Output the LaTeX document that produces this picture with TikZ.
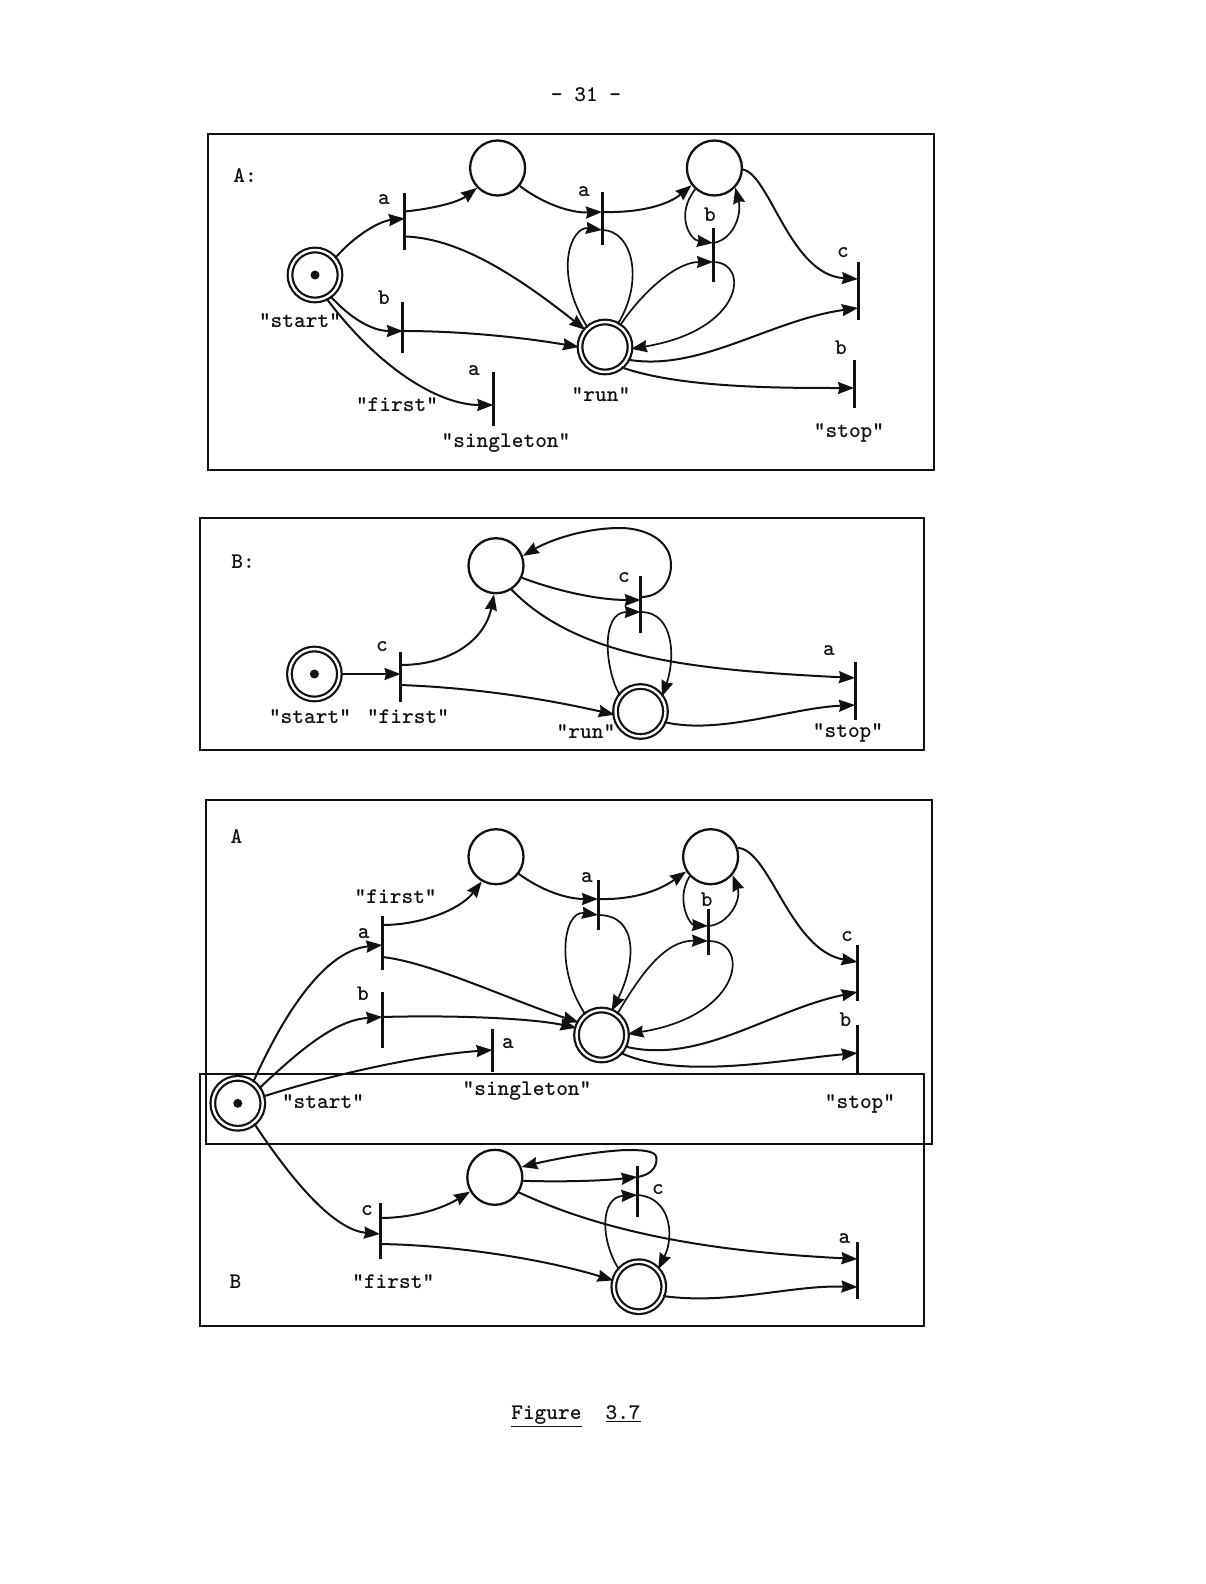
\documentclass[tikz,border=0pt]{standalone}
\usetikzlibrary{arrows.meta,calc}
\tikzset{
  frame/.style={draw=ink,line width=2.5pt},
  place/.style={circle,draw=ink,fill=white,line width=2.3pt,minimum size=55pt,inner sep=0pt},
  dplace/.style={circle,draw=ink,fill=white,line width=2.2pt,double=white,double distance=2.4pt,minimum size=50pt,inner sep=0pt},
  tokenmark/.style={circle,fill=ink,minimum size=9pt,inner sep=0pt},
  tbar/.style={rectangle,fill=ink,minimum width=3pt,inner sep=0pt},
  lab/.style={font=\ttfamily\bfseries\fontsize{22.3}{26}\selectfont,text=ink,inner sep=0pt},
  arc/.style={draw=ink,line width=2pt,-{Stealth[length=16pt,width=12pt,inset=1.5pt]}},
  thinarc/.style={arc,line width=1.7pt},
  plain/.style={draw=ink,line width=1.7pt},
}
\definecolor{ink}{HTML}{111111}
\begin{document}
\begin{tikzpicture}[x=1pt,y=-1pt]
\useasboundingbox (0,0) rectangle (1205,1584);
\fill[white] (0,0) rectangle (1205,1584);
% texts of the page
\node[lab] (pageno) at (586,95) {- 31 -};
\node[lab] (figcap) at (576,1416) {\underline{Figure}\hspace{24pt}\underline{3.7}};
% frames
\node[frame,minimum width=726pt,minimum height=336pt,inner sep=0pt] (frameA) at (571,302) {};
\node[frame,minimum width=724pt,minimum height=232pt,inner sep=0pt] (frameB) at (562,634) {};
\node[frame,minimum width=726pt,minimum height=344pt,inner sep=0pt] (frameCA) at (569,972) {};
\node[frame,minimum width=724pt,minimum height=252pt,inner sep=0pt] (frameCB) at (562,1200) {};

%%%%%%%% Panel A
\node[dplace] (As) at (315,275) {};
\node[tokenmark] (Ast) at (As.center) {};
\node[place] (Ac1) at (497.6,168) {};
\node[place] (Ac2) at (714.4,168) {};
\node[dplace] (Ar) at (605,347) {};
\node[tbar,minimum height=57pt] (Aa1) at (404.8,221.5) {};
\node[tbar,minimum height=51pt] (Aa2) at (402.9,327.5) {};
\node[tbar,minimum height=54pt] (Aa3) at (493.3,399) {};
\node[tbar,minimum height=53pt] (Aa4) at (602,218) {};
\node[tbar,minimum height=54pt] (Aa5) at (713,255) {};
\node[tbar,minimum height=58pt] (Aa6) at (858,291) {};
\node[tbar,minimum height=48pt] (Aa7) at (854,384) {};
\node[lab] (Al0) at (245,176) {A:};
\node[lab] (Al1) at (384,200) {a};
\node[lab] (Al2) at (584,192) {a};
\node[lab] (Al3) at (710,215) {b};
\node[lab] (Al4) at (843,253) {c};
\node[lab] (Al5) at (384,298) {b};
\node[lab] (Al6) at (474,371) {a};
\node[lab] (Al7) at (841,348) {b};
\node[lab] (Al8) at (300,321) {"start"};
\node[lab] (Al9) at (397,405) {"first"};
\node[lab] (Al10) at (506,443) {"singleton"};
\node[lab] (Al11) at (601,395) {"run"};
\node[lab] (Al12) at (849,433) {"stop"};
\draw[arc] (As.40) .. controls (355,235) and (380,221) .. ([yshift=3pt]Aa1.center);
\draw[arc] ([yshift=10pt]Aa1.center) .. controls (430,209) and (457,203) .. (Ac1.224);
\draw[arc] ([yshift=-15pt]Aa1.center) .. controls (455,238) and (510,270) .. (Ar.139);
\draw[arc] (As.-54) .. controls (350,318) and (372,331) .. ([yshift=-3.5pt]Aa2.center);
\draw[arc] ([yshift=-3.5pt]Aa2.center) .. controls (460,331) and (520,337) .. (Ar.180);
\draw[arc] (As.-64) .. controls (380,370) and (440,405) .. ([yshift=-6pt]Aa3.center);
\draw[arc] (Ac1.-39) .. controls (545,205) and (572,213) .. ([yshift=6pt]Aa4.center);
\draw[arc] ([yshift=6pt]Aa4.center) .. controls (640,213) and (668,205) .. (Ac2.217);
\draw[thinarc] (Ar.132) .. controls (552,270) and (572,226) .. ([yshift=-12pt]Aa4.center);
\draw[plain] ([yshift=-12pt]Aa4.center) .. controls (632,230) and (645,280) .. (Ar.61);
\draw[thinarc] (Ar.55) .. controls (640,295) and (675,262) .. ([yshift=-7pt]Aa5.center);
\draw[thinarc] ([yshift=-7pt]Aa5.center) .. controls (750,262) and (745,330) .. (Ar.-4);
\draw[thinarc] (Ac2.228) .. controls (675,215) and (690,240) .. ([yshift=12pt]Aa5.center);
\draw[thinarc] ([yshift=12pt]Aa5.center) .. controls (733,240) and (742,215) .. (Ac2.-43);
\draw[arc] (Ac2.-3) .. controls (770,175) and (790,275) .. ([yshift=12pt]Aa6.center);
\draw[arc] (Ar.-29) .. controls (700,372) and (770,320) .. ([yshift=-17pt]Aa6.center);
\draw[arc] (Ar.-51) .. controls (680,388) and (780,388) .. ([yshift=-4pt]Aa7.center);

%%%%%%%% Panel B
\node[dplace] (Bs) at (314.4,674) {};
\node[tokenmark] (Bst) at (Bs.center) {};
\node[place] (Bc1) at (496,565.7) {};
\node[dplace] (Br) at (640.5,711.5) {};
\node[tbar,minimum height=50pt] (Bb1) at (400.5,677) {};
\node[tbar,minimum height=57pt] (Bb2) at (640.7,604) {};
\node[tbar,minimum height=58pt] (Bb3) at (855,691) {};
\node[lab] (Bl0) at (243,562) {B:};
\node[lab] (Bl1) at (382,647) {c};
\node[lab] (Bl2) at (624,578) {c};
\node[lab] (Bl3) at (829,651) {a};
\node[lab] (Bl4) at (310,717) {"start"};
\node[lab] (Bl5) at (408,717) {"first"};
\node[lab] (Bl6) at (586,732) {"run"};
\node[lab] (Bl7) at (848,733) {"stop"};
\draw[arc] (Bs.0) -- ([yshift=3pt]Bb1.center);
\draw[arc] ([yshift=12pt]Bb1.center) .. controls (450,665) and (485,640) .. (Bc1.-94);
\draw[arc] ([yshift=-8pt]Bb1.center) .. controls (480,688) and (550,700) .. (Br.187);
\draw[arc] (Bc1.-25) .. controls (560,592) and (600,600) .. ([yshift=4pt]Bb2.center);
\draw[arc] ([yshift=7pt]Bb2.center) .. controls (660,597) and (671,582) .. (671,565) .. controls (671,540) and (645,528) .. (620,528) .. controls (585,528) and (550,540) .. (Bc1.20);
\draw[thinarc] (Br.142) .. controls (605,670) and (600,612) .. ([yshift=-8pt]Bb2.center);
\draw[thinarc] ([yshift=-8pt]Bb2.center) .. controls (675,612) and (675,660) .. (Br.35);
\draw[arc] (Bc1.-57) .. controls (580,660) and (700,670) .. ([yshift=13pt]Bb3.center);
\draw[arc] (Br.-24) .. controls (720,735) and (790,708) .. ([yshift=-14pt]Bb3.center);

%%%%%%%% Panel C
\node[dplace] (Cs) at (237.8,1103.3) {};
\node[tokenmark] (Cst) at (Cs.center) {};
\node[place] (Cc1) at (496,856.7) {};
\node[place] (Cc2) at (710.6,856.7) {};
\node[dplace] (Cr) at (601.5,1035) {};
\node[place] (Dc1) at (494.8,1177.3) {};
\node[dplace] (Dr) at (638.8,1286.7) {};
\node[tbar,minimum height=54pt] (Ca) at (382.3,943) {};
\node[tbar,minimum height=56pt] (Cb) at (382.3,1020) {};
\node[tbar,minimum height=43pt] (Cd) at (492.4,1050) {};
\node[tbar,minimum height=50pt] (Ce) at (598,905) {};
\node[tbar,minimum height=46pt] (Cf) at (708,932) {};
\node[tbar,minimum height=56pt] (Cg) at (857.5,973) {};
\node[tbar,minimum height=48pt] (Ch) at (857.5,1049) {};
\node[tbar,minimum height=56pt] (Da) at (380,1231) {};
\node[tbar,minimum height=51pt] (Db) at (637.4,1191) {};
\node[tbar,minimum height=57pt] (Dd) at (857.5,1270) {};
\node[lab] (Cl0) at (236.4,836.7) {A};
\node[lab] (Cl1) at (395.7,896.7) {"first"};
\node[lab] (Cl2) at (363.7,933.3) {a};
\node[lab] (Cl3) at (363,993.3) {b};
\node[lab] (Cl4) at (508,1043.3) {a};
\node[lab] (Cl5) at (587,877.3) {a};
\node[lab] (Cl6) at (706.7,899.3) {b};
\node[lab] (Cl7) at (847,936.7) {c};
\node[lab] (Cl8) at (845.5,1020) {b};
\node[lab] (Cl9) at (323,1102) {"start"};
\node[lab] (Cl10) at (527,1091) {"singleton"};
\node[lab] (Cl11) at (860,1104) {"stop"};
\node[lab] (Dl0) at (235.5,1281.7) {B};
\node[lab] (Dl1) at (367,1210.7) {c};
\node[lab] (Dl2) at (658,1189.3) {c};
\node[lab] (Dl3) at (844.5,1238.3) {a};
\node[lab] (Dl4) at (393.3,1282) {"first"};
\draw[arc] (Cs.54) .. controls (290,1000) and (330,950) .. ([yshift=-2pt]Ca.center);
\draw[arc] ([yshift=18pt]Ca.center) .. controls (420,925) and (460,910) .. (Cc1.240);
\draw[arc] ([yshift=-14pt]Ca.center) .. controls (430,962) and (510,1000) .. (Cr.151);
\draw[arc] (Cs.35) .. controls (300,1050) and (335,1020) .. ([yshift=3pt]Cb.center);
\draw[arc] ([yshift=3pt]Cb.center) .. controls (450,1015) and (530,1018) .. (Cr.164);
\draw[arc] (Cs.15) .. controls (330,1075) and (420,1055) .. (Cd.center);
\draw[arc] (Cc1.-37) .. controls (545,893) and (570,899) .. ([yshift=6pt]Ce.center);
\draw[arc] ([yshift=6pt]Ce.center) .. controls (635,900) and (660,890) .. (Cc2.211);
\draw[thinarc] (Cr.128) .. controls (555,970) and (563,910) .. ([yshift=-10pt]Ce.center);
\draw[thinarc] ([yshift=-10pt]Ce.center) .. controls (640,915) and (635,965) .. (Cr.67);
\draw[thinarc] (Cr.53) .. controls (640,975) and (665,940) .. ([yshift=-9pt]Cf.center);
\draw[thinarc] ([yshift=-9pt]Cf.center) .. controls (750,940) and (745,1015) .. (Cr.2);
\draw[thinarc] (Cc2.223) .. controls (675,900) and (690,925) .. ([yshift=6pt]Cf.center);
\draw[thinarc] ([yshift=6pt]Cf.center) .. controls (728,925) and (742,900) .. (Cc2.-40);
\draw[arc] (Cc2.18) .. controls (770,850) and (790,950) .. ([yshift=11pt]Cg.center);
\draw[arc] (Cr.-26) .. controls (700,1065) and (770,1010) .. ([yshift=-19pt]Cg.center);
\draw[arc] (Cr.-43) .. controls (680,1080) and (780,1060) .. ([yshift=-4pt]Ch.center);
\draw[arc] (Cs.-51) .. controls (295,1185) and (335,1230) .. ([yshift=-3pt]Da.center);
\draw[arc] ([yshift=13pt]Da.center) .. controls (410,1218) and (440,1210) .. (Dc1.210);
\draw[arc] ([yshift=-13pt]Da.center) .. controls (450,1245) and (540,1258) .. (Dr.166);
\draw[arc] (Dc1.-7) .. controls (560,1182) and (600,1181) .. ([yshift=14pt]Db.center);
\draw[arc] ([yshift=14pt]Db.center) .. controls (650,1175) and (657,1168) .. (656.5,1158) .. controls (656,1150) and (640,1150) .. (625,1150) .. controls (590,1152) and (550,1160) .. (Dc1.21);
\draw[thinarc] (Dr.139) .. controls (600,1240) and (600,1197) .. ([yshift=-4pt]Db.center);
\draw[thinarc] ([yshift=-4pt]Db.center) .. controls (670,1197) and (675,1235) .. (Dr.42);
\draw[arc] (Dc1.-32) .. controls (610,1235) and (720,1252) .. ([yshift=11pt]Dd.center);
\draw[arc] (Dr.-21) .. controls (730,1305) and (790,1285) .. ([yshift=-17pt]Dd.center);
\end{tikzpicture}
\end{document}
